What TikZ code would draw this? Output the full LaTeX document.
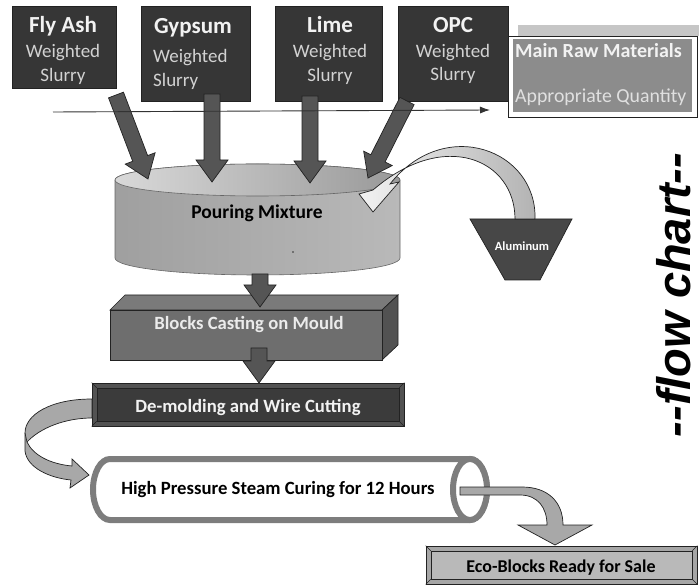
\documentclass[tikz,border=0pt]{standalone}
\usepackage{fontspec}
\setmainfont{Carlito}
\newfontfamily\arialfont{Liberation Sans}
\usetikzlibrary{calc,arrows.meta}
\definecolor{boxdark}{HTML}{363636}
\definecolor{arrgray}{HTML}{555555}
\definecolor{edgedark}{HTML}{222222}
\definecolor{steamgray}{HTML}{7D7D7D}
\definecolor{ribbon}{HTML}{A8A8A8}
\definecolor{rawgray}{HTML}{8C8C8C}
\newcommand\blockarrow[2]{%
  \coordinate (ba-h) at ($(#2)!22pt!(#1)$);
  \filldraw[blockarr] ($(#1)!8pt!90:(#2)$) -- ($(ba-h)!8pt!90:(#2)$) -- ($(ba-h)!16pt!90:(#2)$) -- (#2) -- ($(ba-h)!16pt!-90:(#2)$) -- ($(ba-h)!8pt!-90:(#2)$) -- ($(#1)!8pt!-90:(#2)$) -- cycle;}
\begin{document}
\begin{tikzpicture}[x=1pt,y=-1pt,
  srcbox/.style={fill=boxdark, draw=edgedark, line width=0.8pt, inner sep=0},
  blockarr/.style={fill=arrgray, draw=edgedark, line width=0.7pt, line join=miter},
  ttl/.style={text=white!95!black, font=\fontsize{23}{24}\selectfont\bfseries, inner sep=0},
  sub/.style={text=gray!35, font=\fontsize{19}{20}\selectfont, inner sep=0},
  lbl/.style={inner sep=0, font=\fontsize{18.7}{20}\selectfont\bfseries},
  ribbonarr/.style={fill=ribbon, draw=edgedark, line width=0.7pt}]
\useasboundingbox (0,0) rectangle (699,585);

% ---- source boxes
\node[srcbox, minimum width=104pt, minimum height=82pt] (fly) at (64,47) {};
\node[srcbox, minimum width=109pt, minimum height=95pt] (gyp) at (195.5,53.5) {};
\node[srcbox, minimum width=107pt, minimum height=95pt] (lime) at (328.5,53.5) {};
\node[srcbox, minimum width=110pt, minimum height=95pt] (opc) at (453,53.5) {};

\node[ttl, anchor=base] (flyT) at (63,33) {Fly Ash};
\node[sub, anchor=base] (flyW) at (63,58) {Weighted};
\node[sub, anchor=base] (flyS) at (63,82) {Slurry};
\node[ttl, anchor=base] (gypT) at (193,34) {Gypsum};
\node[sub, anchor=base west] (gypW) at (153,63) {Weighted};
\node[sub, anchor=base west] (gypS) at (153,87) {Slurry};
\node[ttl, anchor=base] (limeT) at (330,33) {Lime};
\node[sub, anchor=base] (limeW) at (330,58) {Weighted};
\node[sub, anchor=base] (limeS) at (330,82) {Slurry};
\node[ttl, anchor=base] (opcT) at (453,33) {OPC};
\node[sub, anchor=base] (opcW) at (453,58) {Weighted};
\node[sub, anchor=base] (opcS) at (453,81) {Slurry};

% ---- main raw materials legend
\fill[gray!45] (518,25) rectangle (699,36);
\node[fill=white, draw=edgedark, line width=0.8pt, minimum width=189pt, minimum height=81pt, inner sep=0] (raw) at (602.5,76.5) {};
\node[fill=rawgray, minimum width=179pt, minimum height=73pt, inner sep=0] (rawin) at (602.5,76) {};
\node[inner sep=0, anchor=base west, text=white!95!black, font=\fontsize{20}{20}\selectfont\bfseries] (rawT) at (515,58) {Main Raw Materials};
\node[inner sep=0, anchor=base west, text=white!88!black, font=\fontsize{19.8}{20}\selectfont] (rawQ) at (515,103) {Appropriate Quantity};

% ---- cylinder (pouring mixture)
\path[left color=gray!75, middle color=gray!25, right color=gray!55, draw=gray!80!black, line width=0.6pt]
  (115,180) -- (115,258) arc[start angle=180, end angle=0, x radius=142.5, y radius=17] -- (400,180)
  arc[start angle=0, end angle=-180, x radius=142.5, y radius=16] -- cycle;
\path[left color=gray!30, right color=gray!80, draw=gray!80!black, line width=0.6pt]
  (257.5,180) ellipse[x radius=142.5, y radius=16];
\node[lbl, anchor=base, font=\fontsize{19.5}{20}\selectfont\bfseries] (pour) at (257,219) {Pouring Mixture};
\fill[black!80] (293,252) circle (0.9);

% ---- aluminum
\filldraw[fill=black!72, draw=edgedark, line width=0.7pt] (470,219) -- (572,219) -- (540,280) -- (505,280) -- cycle;
\node[inner sep=0, anchor=base, text=white, font=\fontsize{12.5}{13}\selectfont\bfseries] (alu) at (522,251) {Aluminum};
\coordinate (aluTop) at (525,219);
\coordinate (pourIn) at (373,212);
\path[left color=gray!10, right color=gray!60, draw=edgedark, line width=0.7pt]
  (535,219) .. controls (537,150) and (445,115) .. (390,184) -- (399,182) -- (pourIn) -- (359,194) -- (373,190)
  .. controls (445,128) and (515,160) .. (515,219) -- cycle;

% ---- blocks casting on mould (3D box)
\filldraw[fill=black!52, draw=edgedark, line width=0.7pt] (110,310) -- (125,295) -- (398,295) -- (382,310) -- cycle;
\filldraw[fill=black!68, draw=edgedark, line width=0.7pt] (382,310) -- (398,295) -- (398,345) -- (382,360) -- cycle;
\node[fill=black!57, draw=edgedark, line width=0.7pt, minimum width=272pt, minimum height=50pt, inner sep=0] (cast) at (246,335) {};
\node[lbl, anchor=base, text=white!92!black] (castT) at (249,330) {Blocks Casting on Mould};

% ---- de-molding (bevel box)
\node[fill=black!68, draw=edgedark, line width=0.7pt, minimum width=312pt, minimum height=43pt, inner sep=0] (demold) at (248,404.5) {};
\node[fill=black!77, draw=edgedark, line width=0.6pt, minimum width=302pt, minimum height=33pt, inner sep=0] (demoldIn) at (248,404.5) {};
\draw[edgedark, line width=0.5pt] (demold.north west) -- (demoldIn.north west) (demold.north east) -- (demoldIn.north east)
  (demold.south west) -- (demoldIn.south west) (demold.south east) -- (demoldIn.south east);
\node[lbl, anchor=base, text=white!95!black] (demoldT) at (248,412) {De-molding and Wire Cutting};

% ---- steam curing cylinder
\filldraw[fill=white, draw=steamgray, line width=6pt]
  (470,459) -- (110,459) arc[start angle=270, end angle=90, x radius=17, y radius=30.5] -- (470,520)
  arc[start angle=90, end angle=-90, x radius=17, y radius=30.5] -- cycle;
\draw[draw=steamgray, line width=6pt, fill=white] (470,489.5) ellipse[x radius=17, y radius=30.5];
\node[lbl, anchor=base] (steam) at (278,494) {High Pressure Steam Curing for 12 Hours};

% ---- eco blocks (bevel box)
\node[fill=gray!70, draw=edgedark, line width=0.7pt, minimum width=271pt, minimum height=38pt, inner sep=0] (eco) at (561.5,565) {};
\node[fill=gray!55, draw=edgedark, line width=0.6pt, minimum width=261pt, minimum height=28pt, inner sep=0] (ecoIn) at (561.5,565) {};
\draw[edgedark, line width=0.5pt] (eco.north west) -- (ecoIn.north west) (eco.north east) -- (ecoIn.north east)
  (eco.south west) -- (ecoIn.south west) (eco.south east) -- (ecoIn.south east);
\node[lbl, anchor=base, font=\fontsize{18}{18}\selectfont\bfseries] (ecoT) at (561,572) {Eco-Blocks Ready for Sale};

% ---- ribbon arrows
\coordinate (demoldL) at (92,408);
\coordinate (steamL) at (89,475);
\path[ribbonarr]
  (92,399) .. controls (50,399) and (25,415) .. (25,433) -- (25,451)
  .. controls (27,468) and (50,478) .. (71,480) -- (70,488) -- (steamL) -- (72,459) -- (72,466)
  .. controls (50,464) and (33,455) .. (27,442) .. controls (40,428) and (65,418) .. (92,418) -- cycle;
\draw[edgedark, line width=0.6pt] (25,433) -- (27,442);
\coordinate (steamR) at (460,491);
\coordinate (ecoTop) at (555,545);
\path[ribbonarr]
  (460,487) -- (522,487) .. controls (548,487) and (563,502) .. (563,525) -- (592,525) -- (ecoTop) -- (518,525) -- (547,525)
  .. controls (547,508) and (538,495) .. (520,495) -- (460,495) -- cycle;

% ---- block arrows
\coordinate (flyOut) at (116,95);   \coordinate (flyIn) at (148,179);
\coordinate (gypOut) at (212,94);   \coordinate (gypIn) at (212,182);
\coordinate (limeOut) at (310,96);  \coordinate (limeIn) at (310,183);
\coordinate (opcOut) at (407,101);  \coordinate (opcIn) at (368,178);
\coordinate (pourOut) at (260,274); \coordinate (castIn) at (260,307);
\coordinate (castOut) at (259,348); \coordinate (demoldIn2) at (259,383);
\blockarrow{flyOut}{flyIn}
\blockarrow{gypOut}{gypIn}
\blockarrow{limeOut}{limeIn}
\blockarrow{opcOut}{opcIn}
\blockarrow{pourOut}{castIn}
\blockarrow{castOut}{demoldIn2}

% ---- thin horizontal line
\coordinate (lineL) at (53,112);
\coordinate (lineR) at (490,110);
\draw[black!80, line width=0.9pt, -{Latex[length=10pt,width=7pt]}] (lineL) -- (lineR);

% ---- side title
\node[rotate=90, anchor=base, inner sep=0, font=\arialfont\bfseries\itshape\fontsize{47}{47}\selectfont] (fc) at (690,295) {{-}{-}flow chart{-}{-}};
\end{tikzpicture}
\end{document}
